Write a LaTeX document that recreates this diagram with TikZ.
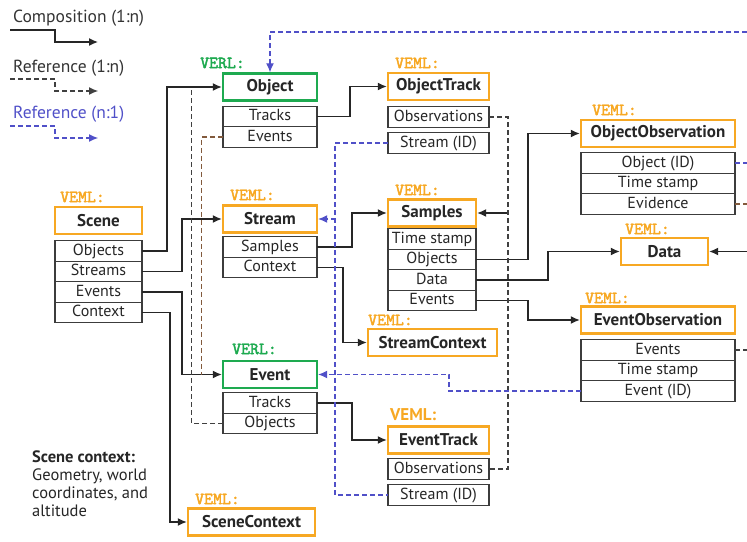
\documentclass[tikz,border=0pt]{standalone}
\usepackage{fontspec}
\setmainfont{PT Sans}
\newfontfamily\labelmono[FakeBold=2.5]{lmmono10-regular.otf}
\usetikzlibrary{arrows.meta,positioning}

\definecolor{vemlorange}{RGB}{247,168,35}
\definecolor{verlgreen}{RGB}{30,170,80}
\definecolor{refblue}{RGB}{80,80,200}
\definecolor{rowgray}{RGB}{60,60,60}
\definecolor{refbrown}{RGB}{130,90,60}

\tikzset{
  box/.style={draw=vemlorange, line width=2.4pt, inner sep=0pt, minimum height=27pt,
    font=\fontsize{17}{18}\selectfont\bfseries, text=black!85},
  relbox/.style={box, draw=verlgreen},
  row/.style={draw=rowgray, line width=1.4pt, inner sep=0pt, outer sep=0pt, minimum height=20.5pt,
    text height=11.5pt, text depth=3pt, font=\fontsize{16}{18}\selectfont, text=black!85},
  vemltag/.style={anchor=west, inner sep=0pt, text=vemlorange, font=\fontsize{17}{17}\labelmono},
  verltag/.style={vemltag, text=verlgreen},
  legendtext/.style={anchor=west, inner sep=0pt, font=\fontsize{17.5}{18}\selectfont, text=black!80},
  comp/.style={line width=1.3pt, draw=black!85, -{Latex[length=9pt,width=8pt]}},
  refa/.style={line width=1.1pt, draw=black!75, dash pattern=on 5pt off 3pt},
  refc/.style={refa, draw=refbrown},
  refb/.style={refa, draw=refblue},
  tipped/.style={-{Latex[length=9pt,width=8pt]}}
}

\begin{document}
\begin{tikzpicture}[x=1pt, y=-1pt]
  \useasboundingbox (0,0) rectangle (747,541);

  %%%%% legend %%%%%
  \node[legendtext] (lgComp) at (13,18) {Composition (1:n)};
  \node[legendtext] (lgRefA) at (13,68) {Reference (1:n)};
  \node[legendtext, text=refblue] (lgRefB) at (13,114) {Reference (n:1)};
  \coordinate (lgA) at (10,30);
  \coordinate (lgB) at (10,79);
  \coordinate (lgC) at (10,126);
  \draw[comp] (lgA) -- ++(45,0) |- ++(43,12);
  \draw[refa, tipped] (lgB) -- ++(45,0) |- ++(43,12);
  \draw[refb, tipped] (lgC) -- ++(45,0) |- ++(43,12);

  %%%%% Scene %%%%%
  \node[vemltag] at (60,197) {VEML:};
  \node[box, minimum width=87pt] (scene) at (98.5,220.5) {Scene};
  \node[row, minimum width=87pt] (scObjects) at (98.5,251) {Objects};
  \node[row, minimum width=87pt, below=0pt of scObjects] (scStreams) {Streams};
  \node[row, minimum width=87pt, below=0pt of scStreams] (scEvents) {Events};
  \node[row, minimum width=87pt, below=0pt of scEvents] (scContext) {Context};

  \node[anchor=north west, align=left, inner sep=0pt, font=\fontsize{16.5}{18}\selectfont, text=black!85] (ctxNote) at (32,451)
    {\textbf{Scene context:}\\Geometry, world\\coordinates, and\\altitude};

  %%%%% Object %%%%%
  \node[verltag] at (200,63) {VERL:};
  \node[relbox, minimum width=94pt] (object) at (270,87) {Object};
  \node[row, minimum width=94pt] (oTracks) at (270,116.5) {Tracks};
  \node[row, minimum width=94pt, below=0pt of oTracks] (oEvents) {Events};

  %%%%% Stream %%%%%
  \node[vemltag] at (230,195) {VEML:};
  \node[box, minimum width=94pt] (stream) at (270,219) {Stream};
  \node[row, minimum width=94pt] (sSamples) at (270,247) {Samples};
  \node[row, minimum width=94pt, below=0pt of sSamples] (sContext) {Context};

  %%%%% Event %%%%%
  \node[verltag] at (232,349) {VERL:};
  \node[relbox, minimum width=94pt] (event) at (270,374.5) {Event};
  \node[row, minimum width=94pt] (eTracks) at (270,403) {Tracks};
  \node[row, minimum width=94pt, below=0pt of eTracks] (eObjects) {Objects};

  %%%%% SceneContext %%%%%
  \node[vemltag] at (195,499) {VEML:};
  \node[box, minimum width=127pt] (sceneCtx) at (251.5,522) {SceneContext};

  %%%%% ObjectTrack %%%%%
  \node[vemltag] at (395,63) {VEML:};
  \node[box, minimum width=101pt] (objTrack) at (438.5,86.5) {ObjectTrack};
  \node[row, minimum width=101pt] (otObs) at (438.5,117) {Observations};
  \node[row, minimum width=101pt] (otStream) at (438.5,143) {Stream (ID)};

  %%%%% Samples %%%%%
  \node[vemltag] at (395,190) {VEML:};
  \node[box, minimum width=88pt] (samples) at (432,213) {Samples};
  \node[row, minimum width=88pt] (smTime) at (432,239) {Time stamp};
  \node[row, minimum width=88pt, below=0pt of smTime] (smObjects) {Objects};
  \node[row, minimum width=88pt, below=0pt of smObjects] (smData) {Data};
  \node[row, minimum width=88pt, below=0pt of smData] (smEvents) {Events};

  %%%%% StreamContext %%%%%
  \node[vemltag] at (368,320) {VEML:};
  \node[box, minimum width=129pt] (streamCtx) at (432.5,342.5) {StreamContext};

  %%%%% EventTrack %%%%%
  \node[anchor=west, inner sep=0pt, text=vemlorange, font=\fontsize{17}{18}\selectfont\bfseries] at (390,415) {VEML:};
  \node[box, minimum width=101pt] (evTrack) at (438.5,440) {EventTrack};
  \node[row, minimum width=101pt] (etObs) at (438.5,469) {Observations};
  \node[row, minimum width=101pt] (etStream) at (438.5,495) {Stream (ID)};

  %%%%% ObjectObservation %%%%%
  \node[vemltag] at (592,110) {VEML:};
  \node[box, minimum width=154pt] (objObs) at (658,133.5) {ObjectObservation};
  \node[row, minimum width=154pt] (ooObject) at (658,163) {Object (ID)};
  \node[row, minimum width=154pt, below=0pt of ooObject] (ooTime) {Time stamp};
  \node[row, minimum width=154pt, below=0pt of ooTime] (ooEvidence) {Evidence};

  %%%%% Data %%%%%
  \node[vemltag] at (625,229) {VEML:};
  \node[box, minimum width=87pt] (data) at (664.5,251.5) {Data};

  %%%%% EventObservation %%%%%
  \node[vemltag] at (585,298) {VEML:};
  \node[box, minimum width=154pt] (evObs) at (658,320) {EventObservation};
  \node[row, minimum width=154pt] (eoEvents) at (658,350) {Events};
  \node[row, minimum width=154pt, below=0pt of eoEvents] (eoTime) {Time stamp};
  \node[row, minimum width=154pt, below=0pt of eoTime] (eoEventID) {Event (ID)};

  %%%%% composition %%%%%
  \draw[comp] (scObjects.east) -- ++(25,0) |- (object.west);
  \draw[comp] (scStreams.east) -- ++(40,0) |- (stream.west);
  \draw[comp] (scEvents.east) -- ++(40,0) |- (event.west);
  \draw[comp] (scContext.east) -- ++(28,0) |- (sceneCtx.west);
  \draw[comp] (oTracks.east) -- ++(33,0) |- (objTrack.west);
  \draw[comp] (sSamples.east) -- ++(35,0) |- (samples.west);
  \draw[comp] (sContext.east) -- ++(26,0) |- (streamCtx.west);
  \draw[comp] (eTracks.east) -- ++(35,0) |- (evTrack.west);
  \draw[comp] (smObjects.east) -- ++(52,0) |- (objObs.west);
  \draw[comp] (smData.east) -- ++(72,0) |- (data.west);
  \draw[comp] (smEvents.east) -- ++(52,0) |- (evObs.west);
  \coordinate (dataIn) at (747,251.5);
  \draw[comp] (dataIn) -- (data.east);
  \coordinate (obsLine) at (508,0);
  \draw[comp] (obsLine |- samples.east) -- (samples.east);

  %%%%% reference (1:n) %%%%%
  \draw[refa] (otObs.east) -| (obsLine |- etObs.east) -- (etObs.east);
  \draw[refa] (eObjects.west) -| ([xshift=-30pt]object.west);
  \draw[refc] (oEvents.west) -| ([xshift=-20pt]event.west);
  \draw[refa] (eoEvents.east) -- ++(12,0);
  \draw[refc] (ooEvidence.east) -- ++(12,0);

  %%%%% reference (n:1) %%%%%
  \coordinate (topIn) at (747,32);
  \draw[refb, tipped] (topIn) -| (object.north);
  \draw[refb] (otStream.west) -| ([xshift=-53pt]etStream.west) -- (etStream.west);
  \draw[refb, tipped] ([xshift=18pt]stream.east) -- (stream.east);
  \draw[refb, tipped] (eoEventID.west) -- ++(-132,0) |- (event.east);
  \draw[refb] (ooObject.east) -- ++(12,0);
\end{tikzpicture}
\end{document}
